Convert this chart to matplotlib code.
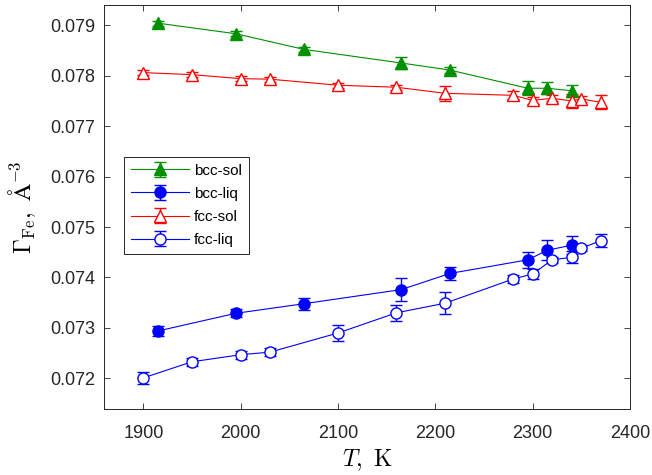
import numpy as np
import matplotlib
matplotlib.use("Agg")
import matplotlib.pyplot as plt

# temperatures, K
t_bcc = [1915, 1995, 2065, 2165, 2215, 2295, 2315, 2340]
t_fcc = [1900, 1950, 2000, 2030, 2100, 2160, 2210, 2280, 2300, 2320, 2340, 2350, 2370]

# Gamma_Fe values and errors
bcc_sol = [0.07904, 0.07883, 0.07852, 0.07825, 0.07811, 0.07775, 0.07775, 0.07770]
bcc_sol_err = [0.00005, 0.00005, 0.00005, 0.00012, 0.00006, 0.00014, 0.00012, 0.00012]

bcc_liq = [0.07294, 0.07329, 0.07348, 0.07376, 0.07408, 0.07435, 0.07454, 0.07464]
bcc_liq_err = [0.00009, 0.00008, 0.00012, 0.00023, 0.00012, 0.00016, 0.00020, 0.00018]

fcc_sol = [0.07806, 0.07802, 0.07794, 0.07793, 0.07781, 0.07777, 0.07765, 0.07761,
           0.07751, 0.07755, 0.07750, 0.07754, 0.07747]
fcc_sol_err = [0.00005, 0.00005, 0.00005, 0.00005, 0.00005, 0.00005, 0.00015, 0.00008,
               0.00007, 0.00006, 0.00014, 0.00006, 0.00014]

fcc_liq = [0.07201, 0.07233, 0.07247, 0.07252, 0.07290, 0.07330, 0.07349, 0.07397,
           0.07407, 0.07435, 0.07440, 0.07458, 0.07473]
fcc_liq_err = [0.00012, 0.00008, 0.00008, 0.00008, 0.00016, 0.00016, 0.00022, 0.00008,
               0.00010, 0.00006, 0.00012, 0.00006, 0.00013]

plt.rcParams["font.family"] = ["Liberation Sans", "DejaVu Sans"]
plt.rcParams["mathtext.fontset"] = "cm"

fig = plt.figure(figsize=(6.52, 4.75), dpi=100)
ax = fig.add_axes([0.1601, 0.1396, 0.8062, 0.8499])

green = "#009000"
kw = dict(linewidth=0.8, capsize=4, elinewidth=1.0, capthick=1.0,
          markersize=8, markeredgewidth=1.0)

ax.errorbar(t_bcc, bcc_sol, yerr=bcc_sol_err, color=green, marker="^",
            markerfacecolor=green, label="bcc-sol", **kw)
ax.errorbar(t_bcc, bcc_liq, yerr=bcc_liq_err, color="#0000ff", marker="o",
            markerfacecolor="#0000ff", label="bcc-liq", **kw)
ax.errorbar(t_fcc, fcc_sol, yerr=fcc_sol_err, color="#ff0000", marker="^",
            markerfacecolor="white", label="fcc-sol", **kw)
ax.errorbar(t_fcc, fcc_liq, yerr=fcc_liq_err, color="#0000ff", marker="o",
            markerfacecolor="white", label="fcc-liq", **kw)

ax.set_xlim(1860, 2400)
ax.set_ylim(0.0714, 0.0794)
ax.set_xticks(np.arange(1900, 2401, 100))
ax.set_yticks([0.072, 0.073, 0.074, 0.075, 0.076, 0.077, 0.078, 0.079])
ax.set_yticklabels(["0.072", "0.073", "0.074", "0.075", "0.076", "0.077", "0.078", "0.079"])

ax.tick_params(direction="in", top=True, right=True, length=4, width=0.6,
               labelsize=13, colors="#262626")
ax.tick_params(axis="x", pad=12)
ax.tick_params(axis="y", pad=6.5)
for s in ax.spines.values():
    s.set_linewidth(0.7)
    s.set_color("#262626")

ax.set_xlabel(r"$T,\ \mathrm{K}$", fontsize=17, labelpad=3.5)
ax.set_ylabel(r"$\Gamma_{\mathrm{Fe}},\ \mathrm{\AA}^{-3}$", fontsize=17, labelpad=9)

leg = ax.legend(loc="upper left", bbox_to_anchor=(0.038, 0.624), borderaxespad=0,
                fontsize=11, handlelength=3.8, handletextpad=0.3, labelspacing=0.6,
                borderpad=0.45, fancybox=False, framealpha=1)
leg.get_frame().set_edgecolor("#262626")
leg.get_frame().set_linewidth(0.7)

fig.savefig("out.png", dpi=100)
